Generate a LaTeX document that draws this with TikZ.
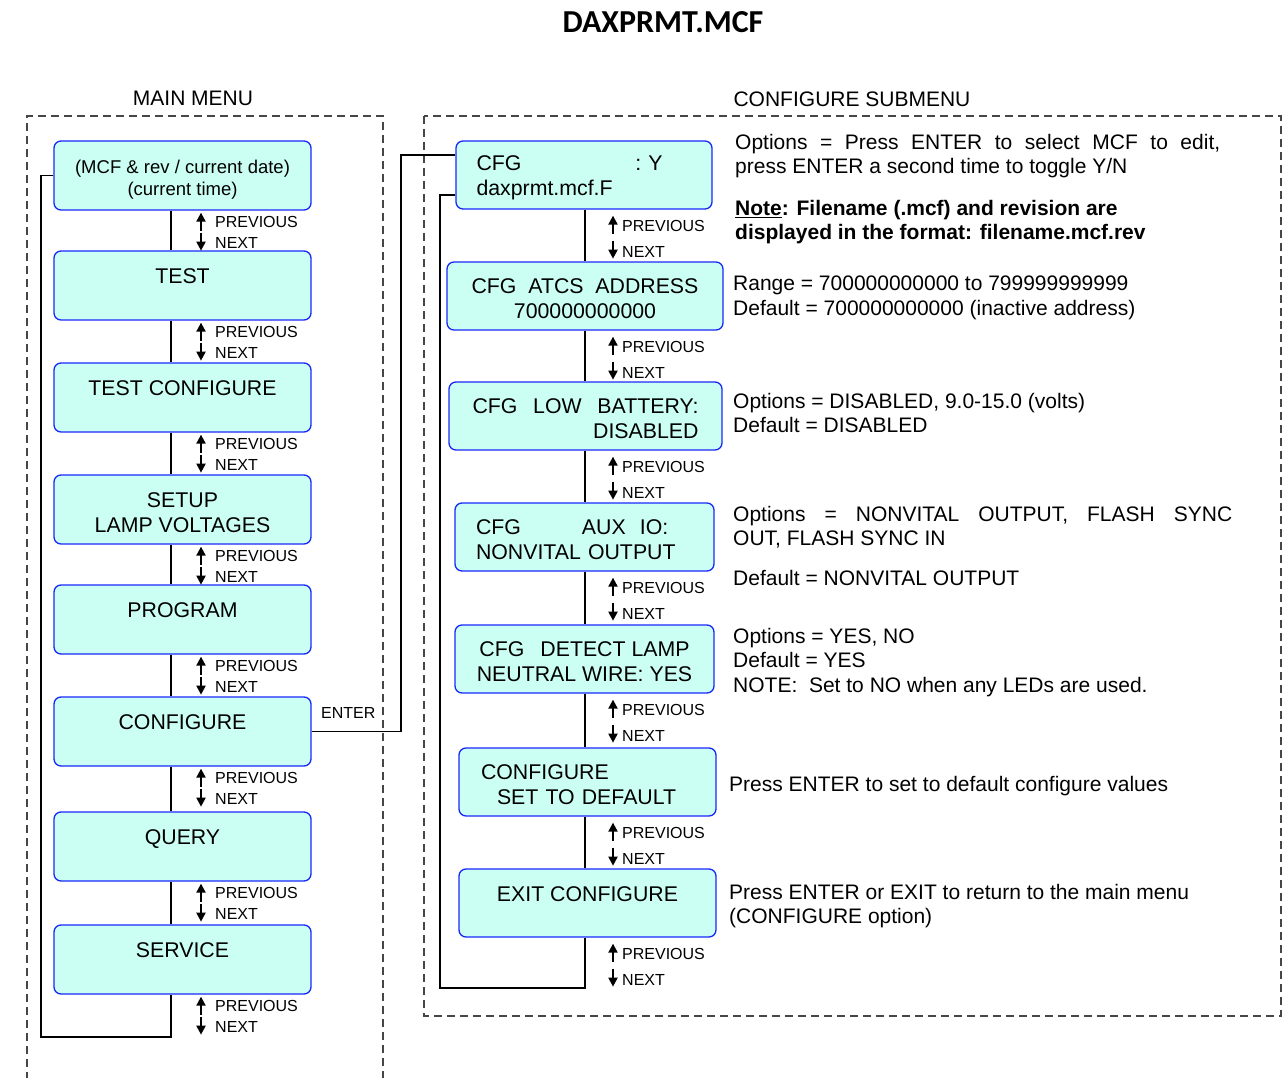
\documentclass[tikz,border=0pt]{standalone}
\usepackage{fontspec}
\setmainfont{Liberation Sans}
\newfontfamily\titlefont{Carlito}
\usetikzlibrary{arrows.meta,positioning,calc}
\definecolor{boxfill}{RGB}{204,255,243}
\definecolor{boxline}{RGB}{25,40,250}
\definecolor{framec}{RGB}{70,70,70}
\newcommand{\boxtop}{\rule{0pt}{21pt}}

\begin{document}
\begin{tikzpicture}[x=1pt, y=-1pt,
  menu/.style={draw=boxline, fill=boxfill, line width=1.3pt, rounded corners=7pt,
    minimum width=257pt, minimum height=69pt, inner sep=0pt, align=center,
    font=\fontsize{21.3}{25}\selectfont},
  lbl/.style={inner sep=0pt, anchor=west, font=\fontsize{16}{19}\selectfont},
  desc/.style={inner sep=0pt, anchor=north west, align=left, font=\fontsize{21}{24.5}\selectfont},
  link/.style={line width=1.3pt},
  updn/.style={line width=2pt, -{Triangle[length=9pt,width=9pt]}},
  frame/.style={draw=framec, line width=1.3pt, dash pattern=on 8pt off 5pt}]
  \useasboundingbox (0,0) rectangle (1285,1078);

  % headings
  \node[font=\titlefont\fontsize{32}{36}\bfseries\selectfont] (title) at (663,22) {DAXPRMT.MCF};
  \node[font=\fontsize{21}{25}\selectfont] (mainhd) at (193,98) {MAIN MENU};
  \node[font=\fontsize{21}{25}\selectfont] (subhd) at (852,99) {CONFIGURE SUBMENU};

  % dashed frames
  \draw[frame] (27,1080) -- (27,116) -- (383,116) -- (383,1080);
  \draw[frame] (424,116) rectangle (1281,1016);

  % main menu
  \node[menu, font=\fontsize{18.5}{22}\selectfont] (m1) at (182.5,175.5) {\boxtop(MCF \& rev / current date)\\(current time)};
  \node[menu] (m2) at (182.5,285.5) {\boxtop TEST\\~};
  \node[menu] (m3) at (182.5,397.5) {\boxtop TEST CONFIGURE\\~};
  \node[menu] (m4) at (182.5,509.5) {\boxtop SETUP\\LAMP VOLTAGES};
  \node[menu] (m5) at (182.5,619.5) {\boxtop PROGRAM\\~};
  \node[menu] (m6) at (182.5,731.5) {\boxtop CONFIGURE\\~};
  \node[menu] (m7) at (182.5,846.5) {\boxtop QUERY\\~};
  \node[menu] (m8) at (182.5,959.5) {\boxtop SERVICE\\~};

  % configure submenu
  \node[menu, minimum width=256pt, minimum height=68pt, text width=215pt, align=left] (r1) at (584,175)
    {\boxtop\makebox[186pt][l]{CFG\hfill: Y}\\daxprmt.mcf.F};
  \node[menu, minimum width=276pt, minimum height=68pt] (r2) at (585,296)
    {\boxtop CFG\ \ ATCS\ \ ADDRESS\\700000000000};
  \node[menu, minimum width=273pt, minimum height=68pt] (r3) at (585.5,416)
    {\boxtop\makebox[226pt]{CFG\hfill LOW\hfill BATTERY:}\\\makebox[226pt][r]{DISABLED}};
  \node[menu, minimum width=259pt, minimum height=68pt, text width=217pt, align=left] (r4) at (584.5,537)
    {\boxtop CFG\hspace{61pt}AUX\ \ IO:\\NONVITAL OUTPUT};
  \node[menu, minimum width=259pt, minimum height=68pt] (r5) at (584.5,659)
    {\boxtop CFG\hspace{16pt}DETECT LAMP\\NEUTRAL WIRE: YES};
  \node[menu, minimum height=68pt, text width=213pt, align=left] (r6) at (587.5,782)
    {\boxtop CONFIGURE\\\hspace*{16pt}SET TO DEFAULT};
  \node[menu, minimum height=68pt] (r7) at (587.5,903) {\boxtop EXIT CONFIGURE\\~};

  % spines
  \coordinate (lx) at (171,0);
  \coordinate (lpx) at (215,0);
  \coordinate (lloop) at (41,1037);
  \coordinate (rx) at (585,0);
  \coordinate (rpx) at (622,0);
  \coordinate (rloop) at (440,988);
  \coordinate (entc) at (401,155);

  \foreach \a/\b in {m1/m2,m2/m3,m3/m4,m4/m5,m5/m6,m6/m7,m7/m8}
    \draw[link] (\a.south -| lx) -- (\b.north -| lx);
  \draw[link] (m1.west) -| (lloop) -| (m8.south -| lx);

  \foreach \a/\b in {r1/r2,r2/r3,r3/r4,r4/r5,r5/r6,r6/r7}
    \draw[link] (\a.south -| rx) -- (\b.north -| rx);
  \draw[link] ($(r1.west)+(0,20)$) -| (rloop) -| (r7.south -| rx);

  % enter
  \draw[link] (m6.east) -| (entc) -- ($(r1.west)+(0,-20)$);
  \node[lbl] (enter) at (321,713) {ENTER};

  % previous / next
  \foreach \i in {1,...,8} {
    \node[lbl] (lp\i) at ($(m\i.south -| lpx)+(0,11)$) {PREVIOUS};
    \node[lbl] (ln\i) at ($(lp\i.west)+(0,21)$) {NEXT};
    \draw[updn] ($(lp\i.west)+(-14,9)$) -- ($(lp\i.west)+(-14,-9)$);
    \draw[updn] ($(ln\i.west)+(-14,-10)$) -- ($(ln\i.west)+(-14,8)$);
  }
  \foreach \i in {1,...,7} {
    \node[lbl] (rp\i) at ($(r\i.south -| rpx)+(0,16)$) {PREVIOUS};
    \node[lbl] (rn\i) at ($(rp\i.west)+(0,26)$) {NEXT};
    \draw[updn] ($(rp\i.west)+(-9,8)$) -- ($(rp\i.west)+(-9,-10)$);
    \draw[updn] ($(rn\i.west)+(-9,-11)$) -- ($(rn\i.west)+(-9,7)$);
  }

  % notes
  \node[desc] (d1) at (735,134)
    {\makebox[485pt][s]{Options = Press ENTER to select MCF to edit,}\\press ENTER a second time to toggle Y/N};
  \node[desc, font=\fontsize{21}{24.5}\bfseries\selectfont] (d2) at (735,200)
    {\underline{Note}: Filename (.mcf) and revision are\\displayed in the format: filename.mcf.rev};
  \node[desc] (d3) at (733,276)
    {Range = 700000000000 to 799999999999\\Default = 700000000000 (inactive address)};
  \node[desc] (d4) at (733,393)
    {Options = DISABLED, 9.0-15.0 (volts)\\Default = DISABLED};
  \node[desc] (d5) at (733,506)
    {\makebox[499pt][s]{Options = NONVITAL OUTPUT, FLASH SYNC}\\OUT, FLASH SYNC IN};
  \node[desc] (d5b) at (733,570) {Default = NONVITAL OUTPUT};
  \node[desc] (d6) at (733,628)
    {Options = YES, NO\\Default = YES\\NOTE:\ \ Set to NO when any LEDs are used.};
  \node[desc] (d7) at (729,776) {Press ENTER to set to default configure values};
  \node[desc] (d8) at (729,884)
    {Press ENTER or EXIT to return to the main menu\\(CONFIGURE option)};
\end{tikzpicture}
\end{document}
